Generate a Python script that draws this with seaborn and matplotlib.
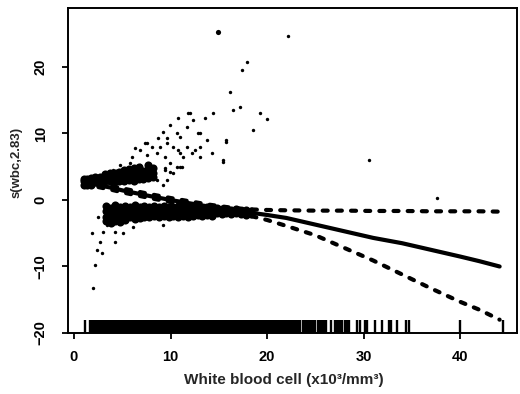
import matplotlib
matplotlib.use("Agg")
import matplotlib.pyplot as plt
import seaborn as sns
import pandas as pd

# ---------------- data ----------------
# fitted smooth and its two-standard-error band
fit_x = [1.1, 2, 3, 4, 5, 6.5, 8, 10, 12, 14, 16, 18, 20, 22, 25, 28, 31, 34, 37, 40, 42, 44.1]
fit_y = [2.7, 2.4, 2.1, 1.8, 1.45, 1.0, 0.55, 0.0, -0.5, -1.0, -1.45, -1.85, -2.25, -2.7,
         -3.7, -4.7, -5.7, -6.5, -7.5, -8.5, -9.2, -10.0]
upper_y = [3.0, 2.7, 2.4, 2.1, 1.75, 1.3, 0.85, 0.3, -0.2, -0.7, -1.1, -1.4, -1.5, -1.55,
           -1.6, -1.6, -1.65, -1.65, -1.7, -1.7, -1.7, -1.75]
lower_y = [2.4, 2.1, 1.8, 1.5, 1.15, 0.7, 0.25, -0.3, -0.8, -1.3, -1.8, -2.3, -3.0, -3.9,
           -5.3, -7.2, -9.1, -11.2, -13.3, -15.3, -16.5, -18.0]

# dense partial residuals (blob, upper wedge, lower band)
blob_pts = [(1.0, 2.2), (1.0, 2.8), (1.0, 3.2), (1.4, 2.2), (1.4, 2.8), (1.4, 3.2),
            (1.8, 2.3), (1.8, 2.9), (1.8, 3.3)]
wedge_pts = [(2.2, 2.9), (2.2, 3.5), (2.7, 2.8), (2.7, 3.5),
             (3.2, 2.8), (3.2, 3.4), (3.2, 3.9), (3.7, 2.9), (3.7, 3.5), (3.7, 4.0),
             (4.2, 2.8), (4.2, 3.4), (4.2, 4.1), (4.7, 2.9), (4.7, 3.5), (4.7, 4.2),
             (5.2, 2.8), (5.2, 3.4), (5.2, 4.0), (5.2, 4.5), (5.7, 3.0), (5.7, 3.6), (5.7, 4.2), (5.7, 4.7),
             (6.2, 2.9), (6.2, 3.5), (6.2, 4.1), (6.2, 4.8), (6.7, 3.1), (6.7, 3.7), (6.7, 4.3), (6.7, 5.0),
             (7.2, 3.1), (7.2, 3.8), (7.2, 4.4), (7.7, 3.3), (7.7, 3.9), (7.7, 4.6), (7.7, 5.2),
             (8.2, 3.4), (8.2, 4.1), (8.2, 4.8)]
band_pts = [(3.3, -0.9), (3.3, -1.7), (3.3, -2.5), (3.3, -3.2),
            (3.8, -1.2), (3.8, -2.0), (3.8, -2.9), (3.8, -3.4),
            (4.3, -0.8), (4.3, -1.6), (4.3, -2.4), (4.3, -3.1),
            (4.8, -1.1), (4.8, -1.9), (4.8, -2.7), (4.8, -3.3),
            (5.3, -0.9), (5.3, -1.7), (5.3, -2.5), (5.3, -3.0),
            (5.8, -1.0), (5.8, -1.8), (5.8, -2.6),
            (6.3, -0.8), (6.3, -1.6), (6.3, -2.4), (6.3, -2.9),
            (6.8, -1.1), (6.8, -1.9), (6.8, -2.7),
            (7.3, -0.9), (7.3, -1.7), (7.3, -2.5),
            (7.8, -1.0), (7.8, -1.8), (7.8, -2.6),
            (8.3, -0.9), (8.3, -1.6), (8.3, -2.4),
            (8.8, -1.1), (8.8, -1.9), (8.8, -2.6),
            (9.3, -0.9), (9.3, -1.7), (9.3, -2.4),
            (9.8, -1.0), (9.8, -1.8), (9.8, -2.5),
            (10.3, -1.1), (10.3, -1.9), (10.3, -2.4),
            (10.8, -0.9), (10.8, -1.7), (10.8, -2.5),
            (11.3, -1.1), (11.3, -1.8), (11.3, -2.4),
            (11.8, -1.0), (11.8, -1.9), (11.8, -2.5),
            (12.3, -1.2), (12.3, -1.9), (12.3, -2.4),
            (12.8, -1.1), (12.8, -1.7), (12.8, -2.3),
            (13.3, -1.2), (13.3, -1.9), (13.3, -2.4),
            (13.8, -1.1), (13.8, -1.8), (13.8, -2.3),
            (14.3, -1.3), (14.3, -2.0), (14.3, -2.4),
            (14.8, -1.2), (14.8, -1.9), (15.3, -1.4), (15.3, -2.1),
            (15.8, -1.3), (15.8, -2.0), (16.3, -1.5), (16.3, -2.1),
            (16.8, -1.4), (16.8, -2.0), (17.3, -1.6), (17.3, -2.1),
            (17.8, -1.5), (17.8, -2.2), (18.3, -1.7), (18.3, -2.1)]

# sparse partial residuals
fan_x = [11.8, 10.8, 9.9, 9.2, 11.0, 11.7, 12.3, 13.6, 14.4, 13.1,
         13.8, 14.3, 15.4, 16.2, 17.4, 17.9, 18.5, 19.3, 16.5, 17.2,
         15.8, 13.1, 12.2, 11.3, 10.7, 9.9, 9.4, 8.6, 8.1, 7.4,
         6.8, 6.3, 6.0, 7.6, 8.9, 9.6, 10.3, 11.0, 11.7, 12.5,
         13.1, 11.2, 9.4, 10.3, 8.2, 8.6, 9.6, 9.2, 6.5, 5.5,
         6.1, 6.8, 7.9, 5.8, 4.8, 4.0, 12.0, 12.8, 10.7, 8.7,
         9.6, 7.6, 10.8, 15.8, 15.4, 9.4, 11.0, 9.9, 20.0, 22.2,
         30.6, 37.6]
fan_y = [13.1, 12.3, 11.3, 10.2, 9.5, 11.0, 12.0, 12.3, 13.1, 10.1,
         9.0, 7.1, 6.0, 16.3, 19.6, 20.8, 10.5, 13.1, 13.5, 14.0,
         9.0, 8.0, 7.1, 6.5, 5.0, 5.6, 6.5, 7.1, 8.0, 8.6,
         7.5, 7.8, 6.5, 6.8, 8.0, 9.3, 8.0, 7.1, 8.0, 7.5,
         6.5, 5.0, 4.5, 4.0, 4.0, 3.0, 3.0, 2.3, 3.0, 3.5,
         4.5, 5.3, 5.0, 5.5, 5.3, 4.5, 13.1, 10.1, 10.1, 9.3,
         8.6, 8.6, 7.5, 8.7, 5.7, 4.8, 5.0, 4.2, 12.2, 24.7,
         6.0, 0.3]
low_x = [1.9, 2.0, 2.2, 2.4, 2.7, 3.0, 2.9, 3.4, 4.2, 4.2, 5.1, 3.7, 6.1, 9.2, 2.5]
low_y = [-5.0, -13.3, -9.8, -7.5, -6.3, -4.8, -8.0, -3.8, -4.8, -6.3, -5.0, -3.3, -4.0, -3.8, -2.5]
outlier_x = [14.9]
outlier_y = [25.3]

# observed white blood cell values (rug)
rug_x = [1.1, 1.7, 1.9, 2.1, 2.2, 2.4, 2.6, 2.7, 2.9, 3.1, 3.2, 3.4, 3.6, 3.7, 3.9, 4.1, 4.2,
         4.4, 4.6, 4.8, 4.9, 5.1, 5.3, 5.4, 5.6, 5.8, 5.9, 6.1, 6.3, 6.5, 6.6, 6.8, 7.0, 7.1,
         7.3, 7.5, 7.6, 7.8, 8.0, 8.2, 8.3, 8.5, 8.7, 8.8, 9.0, 9.2, 9.4, 9.5, 9.7, 9.9, 10.0,
         10.2, 10.4, 10.6, 10.7, 10.9, 11.1, 11.2, 11.4, 11.6, 11.8, 11.9, 12.1, 12.3, 12.4,
         12.6, 12.8, 13.0, 13.1, 13.3, 13.5, 13.6, 13.8, 14.0, 14.2, 14.3, 14.5, 14.7, 14.8,
         15.0, 15.2, 15.4, 15.5, 15.7, 15.9, 16.0, 16.2, 16.4, 16.6, 16.7, 16.9, 17.1, 17.2,
         17.4, 17.6, 17.8, 17.9, 18.1, 18.3, 18.4, 18.6, 18.8, 19.0, 19.1, 19.3, 19.5, 19.6,
         19.8, 20.0, 20.2, 20.3, 20.5, 20.7, 20.8, 21.0, 21.2, 21.4, 21.5, 21.7, 21.9, 22.1,
         22.3, 22.4, 22.6, 22.8, 23.0, 23.2, 23.4,
         23.7, 23.9, 24.1, 24.3, 24.6, 24.8, 25.0, 25.3, 25.5, 25.7, 25.9, 26.1, 26.6,
         27.0, 27.2, 27.4, 27.6, 27.8, 28.1, 28.3, 28.5, 29.3, 29.6, 30.2, 30.4, 31.2,
         31.9, 32.6, 32.8, 33.5, 34.4, 34.7, 40.0, 44.4]

x_ticks = [0, 10, 20, 30, 40]
y_ticks = [-20, -10, 0, 10, 20]
x_label = "White blood cell (x10³/mm³)"
y_label = "s(wbc,2.83)"

# ---------------- drawing ----------------
sns.set_style("ticks")
plt.rcParams["font.family"] = ["Liberation Sans", "DejaVu Sans"]

fig = plt.figure(figsize=(5.2, 3.94), dpi=100)
ax = fig.add_axes([68 / 520, 61 / 394, 449 / 520, 325 / 394])

dense = pd.DataFrame(blob_pts + wedge_pts + band_pts, columns=["x", "y"])
sns.scatterplot(data=dense, x="x", y="y", ax=ax, color="black", s=34,
                linewidth=0, legend=False)
sns.scatterplot(x=fan_x + low_x, y=fan_y + low_y, ax=ax, color="black", s=6,
                linewidth=0, legend=False)
sns.scatterplot(x=outlier_x, y=outlier_y, ax=ax, color="black", s=14,
                linewidth=0, legend=False)

lw = 3.0
sns.lineplot(x=fit_x, y=fit_y, ax=ax, color="black", lw=lw, solid_capstyle="round")
for band in (upper_y, lower_y):
    sns.lineplot(x=fit_x, y=band, ax=ax, color="black", lw=lw,
                 linestyle=(0, (1.2, 2.2)), dash_capstyle="round")

sns.rugplot(x=rug_x, ax=ax, height=0.04, color="black", linewidth=1.7,
            expand_margins=False)

ax.set_xlim(-0.62, 45.9)
ax.set_ylim(-20, 28.87)
ax.set_xticks(x_ticks)
ax.set_yticks(y_ticks)

for sp in ax.spines.values():
    sp.set_visible(True)
    sp.set_linewidth(1.4)
    sp.set_color("black")

ax.tick_params(axis="both", direction="out", length=4.5, width=1.3, colors="black",
               labelsize=10.5)
ax.tick_params(axis="x", pad=8)
ax.tick_params(axis="y", pad=10, labelrotation=90)
for lab in ax.get_yticklabels():
    lab.set_verticalalignment("center")
for lab in ax.get_xticklabels() + ax.get_yticklabels():
    lab.set_fontweight("bold")

ax.set_xlabel(x_label, fontsize=11, fontweight="bold")
ax.set_ylabel(y_label, fontsize=9.5, fontweight="bold")
ax.xaxis.set_label_coords(0.48, -0.145)
ax.yaxis.set_label_coords(-0.114, 0.526)
ax.xaxis.label.set_va("center")
ax.yaxis.label.set_va("center")

fig.savefig("out.png", dpi=100)
